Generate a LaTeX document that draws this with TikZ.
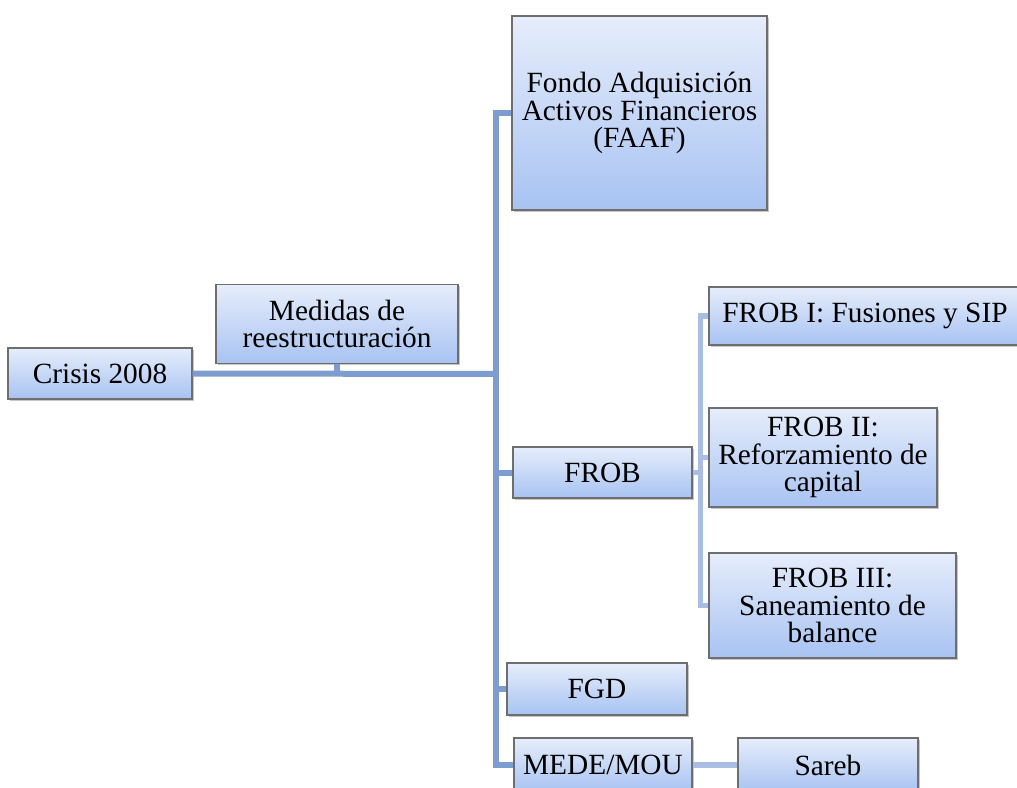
\documentclass[tikz,border=0pt]{standalone}
\usepackage{fontspec}
\setmainfont{Liberation Serif}
\usetikzlibrary{shadows}
\definecolor{boxtop}{HTML}{E6EDFB}
\definecolor{boxbot}{HTML}{A8C3F2}
\definecolor{boxline}{HTML}{6E6E6E}
\definecolor{trunkcol}{HTML}{7D9CCF}
\definecolor{branchcol}{HTML}{A9BEE2}
\begin{document}
\begin{tikzpicture}[x=0.75pt,y=-0.75pt]

\tikzset{box/.style = {shape=rectangle,draw=boxline,line width=0.9pt,top color=boxtop,bottom color=boxbot,
  drop shadow={shadow xshift=1.2pt,shadow yshift=-1.2pt,opacity=0.45},inner sep=0pt,align=center,
  font=\fontsize{22}{20.5}\selectfont}}
\tikzset{trunk/.style = {draw=trunkcol,line width=4.5pt}}
\tikzset{branch/.style = {draw=branchcol,line width=3.8pt}}
\useasboundingbox (0,0) rectangle (1017,788);
%boxes
\node[box, minimum width=184*0.75pt, minimum height=51*0.75pt] (crisis) at (100,373.5) {Crisis 2008};
\node[box, minimum width=242*0.75pt, minimum height=79*0.75pt] (medidas) at (337,324) {Medidas de\\reestructuración};
\node[box, minimum width=255*0.75pt, minimum height=194*0.75pt] (faaf) at (639.5,113) {Fondo Adquisición\\Activos Financieros\\(FAAF)};
\node[box, minimum width=179*0.75pt, minimum height=51*0.75pt] (frob) at (602.5,472.5) {FROB};
\node[box, minimum width=180*0.75pt, minimum height=52*0.75pt] (fgd) at (597,689) {FGD};
\node[box, minimum width=178*0.75pt, minimum height=54*0.75pt] (mede) at (603,765) {MEDE/MOU};
\node[box, minimum width=180*0.75pt, minimum height=54*0.75pt] (sareb) at (828,765) {Sareb};
\node[box, minimum width=312*0.75pt, minimum height=58*0.75pt] (frobi) at (865,316) {FROB I: Fusiones y SIP};
\node[box, minimum width=228*0.75pt, minimum height=99*0.75pt] (frobii) at (823,457.5) {FROB II:\\Reforzamiento de\\capital};
\node[box, minimum width=247*0.75pt, minimum height=105*0.75pt] (frobiii) at (832.5,605.5) {FROB III:\\Saneamiento de\\balance};
%connectors
\coordinate (j) at (496,374);
\draw[trunk] (crisis.east) -- (j);
\draw[trunk] (medidas.south) -- (medidas.south |- j);
\draw[trunk] (j) |- (faaf.west);
\draw[trunk] (j) |- (frob.west);
\draw[trunk] (j) |- (fgd.west);
\draw[trunk] (j) |- (mede.west);
\draw[branch] (frob.east) -- ++(8,0) coordinate (f);
\draw[branch] (f) |- (frobi.west);
\draw[branch] (f) |- (frobii.west);
\draw[branch] (f) |- (frobiii.west);
\draw[branch] (mede) -- (sareb);
\end{tikzpicture}
\end{document}
